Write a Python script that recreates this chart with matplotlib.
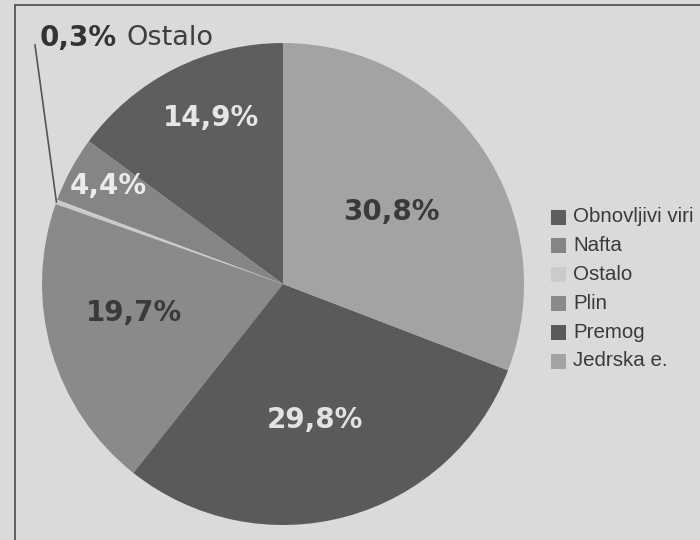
import matplotlib
matplotlib.use("Agg")
import matplotlib.pyplot as plt
from matplotlib.patches import Rectangle
import numpy as np

# Data
categories = ["Obnovljivi viri", "Nafta", "Ostalo", "Plin", "Premog", "Jedrska e."]
values = [14.9, 4.4, 0.3, 19.7, 29.8, 30.8]
value_labels = ["14,9%", "4,4%", "0,3%", "19,7%", "29,8%", "30,8%"]

# Styles
colors = ["#5e5e5e", "#858585", "#cbcbcb", "#8a8a8a", "#5a5a5a", "#a3a3a3"]
label_colors = ["#e6e6e6", "#ebebeb", None, "#3a3a3a", "#e2e2e2", "#3a3a3a"]
label_rfrac = [0.75, 0.83, None, 0.63, 0.58, 0.54]
label_dang = [-3.5, -1.0, 0, -5.0, -2.0, -1.0]

W, H = 700, 540
bg = "#dadada"
fig = plt.figure(figsize=(7, 5.4), dpi=100, facecolor=bg)
ax = fig.add_axes([0, 0, 1, 1])
ax.set_facecolor(bg)

cx, cy, R = 283, H - 284, 241
wedges, _ = ax.pie(values, colors=colors, startangle=90, counterclock=True,
                   center=(cx, cy), radius=R, frame=True,
                   wedgeprops=dict(linewidth=0))
ax.set_xlim(0, W)
ax.set_ylim(0, H)
ax.set_aspect("auto")
ax.axis("off")

# frame lines of the newspaper box
ax.plot([15, 15], [0, H - 5], color="#555555", lw=1.3)
ax.plot([15, W], [H - 5, H - 5], color="#555555", lw=1.3)

# value labels inside slices
for i, w in enumerate(wedges):
    if label_colors[i] is None:
        continue
    mid = np.deg2rad((w.theta1 + w.theta2) / 2 + label_dang[i])
    r = R * label_rfrac[i]
    ax.text(cx + r * np.cos(mid), cy + r * np.sin(mid), value_labels[i],
            ha="center", va="center", fontsize=20, fontweight="bold",
            color=label_colors[i], family="DejaVu Sans")

# Ostalo callout
io = categories.index("Ostalo")
wo = wedges[io]
mo = np.deg2rad((wo.theta1 + wo.theta2) / 2)
ex, ey = cx + R * np.cos(mo), cy + R * np.sin(mo)
ax.plot([ex, 35], [ey, H - 45], color="#555555", lw=1.2)
t1 = ax.text(40, H - 38, value_labels[io], ha="left", va="center", fontsize=20,
             fontweight="bold", color="#333333", family="DejaVu Sans")
fig.canvas.draw()
bb = t1.get_window_extent()
ax.text(bb.x1 + 9, H - 38, categories[io], ha="left", va="center", fontsize=19.5,
        color="#3f3f3f", family="DejaVu Sans")

# legend
ly0, dy = H - 217, 28.8
for i, (c, col) in enumerate(zip(categories, colors)):
    y = ly0 - i * dy
    ax.add_patch(Rectangle((551, y - 7.5), 15, 15, facecolor=col, edgecolor="none"))
    ax.text(573, y, c, ha="left", va="center", fontsize=14.8,
            family="Liberation Sans", color="#3a3a3a")

fig.savefig("out.png", dpi=100, facecolor=bg)
